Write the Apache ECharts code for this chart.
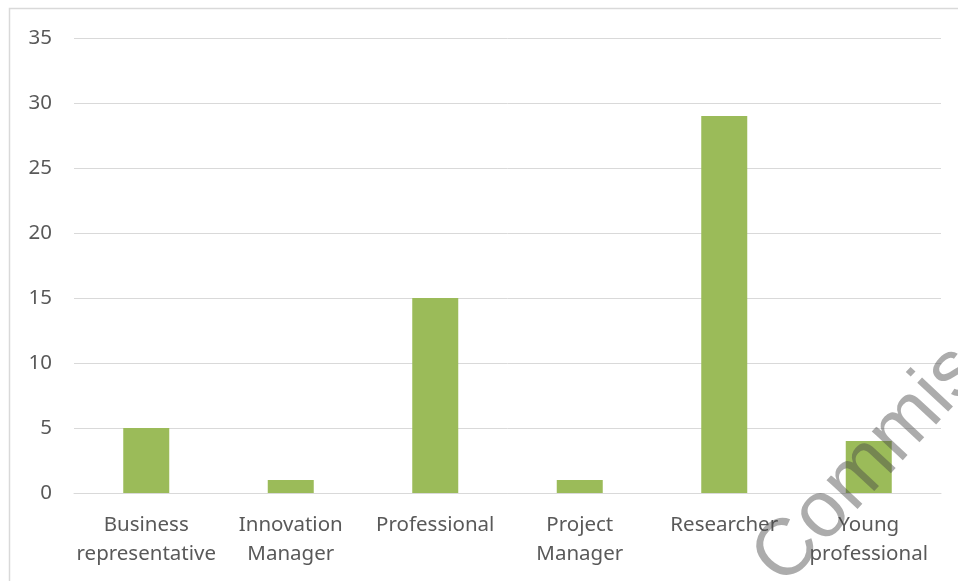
<!DOCTYPE html>
<html>
<head>
<meta charset="utf-8">
<style>html,body{margin:0;padding:0;background:#fff;}#c{width:958px;height:581px;}</style>
<script src="https://cdn.jsdelivr.net/npm/echarts@6/dist/echarts.min.js"></script>
</head>
<body>
<div id="c"></div>
<script>
var categories = ["Business\nrepresentative", "Innovation\nManager", "Professional", "Project\nManager", "Researcher", "Young\nprofessional"];
var values = [5, 1, 15, 1, 29, 4];
var yTicks = [0, 5, 10, 15, 20, 25, 30, 35];

var chart = echarts.init(document.getElementById('c'), null, {renderer: 'canvas'});
chart.setOption({
  animation: false,
  backgroundColor: '#ffffff',
  grid: {left: 74, right: 17, top: 38, bottom: 88, containLabel: false},
  xAxis: {
    type: 'category',
    data: categories,
    axisLine: {show: true, lineStyle: {color: '#d9d9d9', width: 1}},
    axisTick: {show: false},
    axisLabel: {color: '#595959', fontFamily: 'Noto Sans', fontSize: 20.5, lineHeight: 29, margin: 18, interval: 0}
  },
  yAxis: {
    type: 'value',
    min: yTicks[0],
    max: yTicks[yTicks.length - 1],
    interval: 5,
    axisLine: {show: false},
    axisTick: {show: false},
    splitLine: {show: true, lineStyle: {color: '#d9d9d9', width: 1}},
    axisLabel: {color: '#595959', fontFamily: 'Noto Sans', fontSize: 20.5, margin: 22}
  },
  series: [{
    type: 'bar',
    data: values,
    barWidth: 46,
    itemStyle: {color: '#9bbb59'}
  }],
  graphic: [
    {type: 'rect', z: 100, shape: {x: 9.5, y: 8.5, width: 2000, height: 2000}, style: {fill: 'none', stroke: '#d9d9d9', lineWidth: 1.5}},
    {type: 'text', z: 101, x: 797, y: 600, rotation: 0.82,
     style: {text: 'Commission', fontFamily: 'Liberation Sans', fontSize: 80, fill: 'rgba(70,70,70,0.45)', textAlign: 'left', textVerticalAlign: 'bottom'}}
  ]
});
</script>
</body>
</html>
